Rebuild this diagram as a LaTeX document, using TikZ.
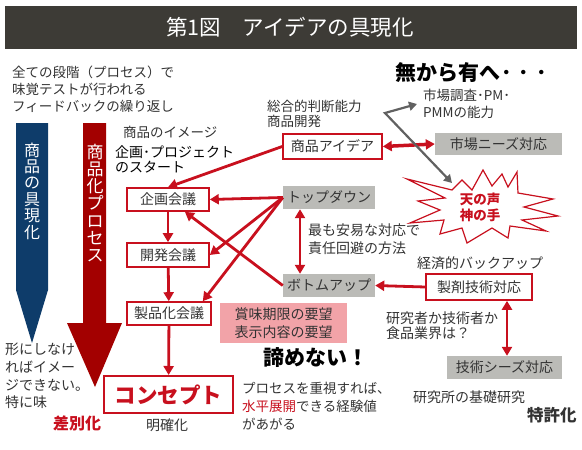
\documentclass[tikz,border=0pt]{standalone}
\usepackage{fontspec}
\setmainfont{Noto Sans CJK JP}
\usetikzlibrary{arrows.meta}

\definecolor{titlebg}{HTML}{3D3B36}
\definecolor{accent}{HTML}{C8101E}
\definecolor{procred}{HTML}{A30000}
\definecolor{procblue}{HTML}{0E3C6A}
\definecolor{boxgray}{HTML}{BBBBB7}
\definecolor{pinkbg}{HTML}{F2A3A8}
\definecolor{txtgray}{HTML}{333333}
\definecolor{arrowgray}{HTML}{616161}

\newcommand{\jfs}[2]{\fontsize{#1}{#2}\selectfont}

\begin{document}
\begin{tikzpicture}[x=1pt, y=-1pt,
    lbl/.style={text=txtgray, font=\jfs{13.5}{17}, align=left, inner sep=0pt, anchor=west},
    vtext/.style={text=white, align=center, inner sep=0pt},
    redbox/.style={draw=accent, line width=1.6pt, fill=white, text=txtgray, font=\jfs{14}{17}, inner sep=0pt},
    graybox/.style={fill=boxgray, text=txtgray, font=\jfs{14}{17}, inner sep=0pt},
    redarrow/.style={draw=accent, line width=2.8pt, -{Triangle[length=9pt,width=10pt]}},
    dblarrow/.style={draw=accent, line width=2.8pt, {Triangle[length=9pt,width=10pt]}-{Triangle[length=9pt,width=10pt]}},
    grayarrow/.style={draw=arrowgray, line width=2.2pt, {Triangle[length=8pt,width=9pt]}-{Triangle[length=8pt,width=9pt]}},
]
\useasboundingbox (0,0) rectangle (582,450);

\fill[titlebg] (5,6) rectangle (577,49);
\node[text=white, font=\jfs{21.5}{24}] (title) at (290,27.5) {第1図　アイデアの具現化};

\fill[procblue] (16,123) -- (48,123) -- (48,290) -- (32,343) -- (16,290) -- cycle;
\fill[procred] (83,123) -- (106,123) -- (106,323) -- (122,323) -- (95,387) -- (67,323) -- (83,323) -- cycle;
\node[vtext, font=\jfs{16}{16.4}] (realize) at (32,191) {商\\品\\の\\具\\現\\化};
\node[vtext, font=\jfs{17}{17.3}] (process) at (95,203) {商\\品\\化\\プ\\ロ\\セ\\ス};

\node[lbl] (intro) at (12,89) {全ての段階（プロセス）で\\味覚テストが行われる\\フィードバックの繰り返し};
\node[lbl, text=black, font=\bfseries\jfs{21}{24}] (nothing) at (395,73) {無から有へ\kern1pt･\kern7pt･\kern7pt･};
\node[lbl] (pmm) at (423,104) {市場調査･PM･\\PMMの能力};
\node[lbl, font=\jfs{13.5}{15.5}] (judge) at (267,114) {総合的判断能力\\商品開発};
\node[lbl] (image) at (123,132) {商品のイメージ};
\node[lbl, text=black, font=\jfs{14}{15.5}] (start) at (115,159.5) {企画･プロジェクト\\のスタート};

\node[redbox, minimum width=82pt, minimum height=23pt] (kikaku) at (168,199.5) {企画会議};
\node[redbox, minimum width=82pt, minimum height=24pt] (kaihatsu) at (168,255) {開発会議};
\node[redbox, minimum width=84pt, minimum height=23pt] (seihin) at (169,313.5) {製品化会議};
\node[redbox, line width=2pt, minimum width=129pt, minimum height=37pt, text=accent, font=\bfseries\jfs{21.5}{24}] (concept) at (168.5,394.5) {コンセプト};
\node[redbox, minimum width=99pt, minimum height=25pt] (idea) at (332.5,146.5) {商品アイデア};
\node[graybox, minimum width=127pt, minimum height=22pt] (needs) at (498.5,144) {市場ニーズ対応};
\node[graybox, minimum width=92pt, minimum height=23pt] (topdown) at (329,197.5) {トップダウン};
\node[graybox, minimum width=92pt, minimum height=23pt] (bottomup) at (329,285.5) {ボトムアップ};
\node[redbox, minimum width=106pt, minimum height=26pt] (seizai) at (479,287) {製剤技術対応};
\node[graybox, minimum width=115pt, minimum height=23pt] (seeds) at (504.5,367.5) {技術シーズ対応};
\node[graybox, fill=pinkbg, align=left, minimum width=127pt, minimum height=40pt, font=\jfs{14}{18}] (wish) at (283.5,323) {賞味期限の要望\\表示内容の要望};

\node[lbl, font=\jfs{14}{18}] (easy) at (308,239) {最も安易な対応で\\責任回避の方法};
\node[lbl, font=\jfs{14}{17}] (backup) at (417,263) {経済的バックアップ};
\node[lbl, font=\jfs{14}{15.5}] (who) at (386,325.5) {研究者か技術者か\\食品業界は？};
\node[lbl, font=\jfs{14}{17}] (basic) at (413,397) {研究所の基礎研究};
\node[lbl, text=txtgray, font=\bfseries\jfs{16.5}{18}] (patent) at (527,415) {特許化};
\node[lbl, text=black, font=\bfseries\jfs{21}{24}] (giveup) at (263,358) {諦めない！};
\node[lbl, font=\jfs{13.5}{18.3}] (expo) at (242,406) {プロセスを重視すれば、\\{\color{accent}水平展開}できる経験値\\があがる};
\node[text=txtgray, font=\jfs{14}{17}, inner sep=0pt] (clear) at (167,425) {明確化};
\node[text=accent, font=\bfseries\jfs{16}{18}, inner sep=0pt] (diff) at (77,423) {差別化};
\node[lbl, font=\jfs{14}{17.7}] (shape) at (5,376) {形にしなけ\\ればイメー\\ジできない。\\特に味};

\draw[accent, line width=1.2pt, fill=white] (407,179) -- (452,190) -- (462,180) -- (472,190) -- (483,170) -- (492,186)
    -- (502,174) -- (508,187) -- (517,172) -- (518,193) -- (553,199) -- (524,207) -- (558,216) -- (522,220)
    -- (546,231) -- (510,226) -- (508,238) -- (492,228) -- (467,243) -- (462,228) -- (440,234) -- (444,220)
    -- (410,223) -- (440,210) -- (418,201) -- (445,198) -- cycle;
\node[text=accent, font=\bfseries\jfs{13.5}{16}, align=center, inner sep=0pt] (voice) at (480,207) {天の声\\神の手};

\draw[redarrow] (idea.west) -- (kikaku.north);
\draw[dblarrow, line width=3.5pt] (idea.east) -- (needs.west);
\draw[redarrow] (topdown.west) -- (kikaku.east);
\draw[redarrow] (topdown.west) -- (kaihatsu.east);
\draw[redarrow] (topdown.west) -- (seihin.20);
\draw[redarrow] (bottomup.west) -- (kikaku.-36);
\draw[redarrow] (kikaku) -- (kaihatsu);
\draw[redarrow] (kaihatsu) -- (seihin);
\draw[redarrow] (seihin) -- (concept);
\draw[dblarrow] ([xshift=-29pt]topdown.south) -- ([xshift=-29pt]bottomup.north);
\draw[redarrow] (seizai.west) -- (bottomup.east);
\draw[dblarrow] ([xshift=28pt]seizai.south) -- ([xshift=2.5pt]seeds.north);

\coordinate (bend) at (385,113);
\coordinate (burst) at (452,183);
\draw[grayarrow] ([xshift=-6pt]pmm.west) -- (bend) -- (burst);
\end{tikzpicture}
\end{document}
